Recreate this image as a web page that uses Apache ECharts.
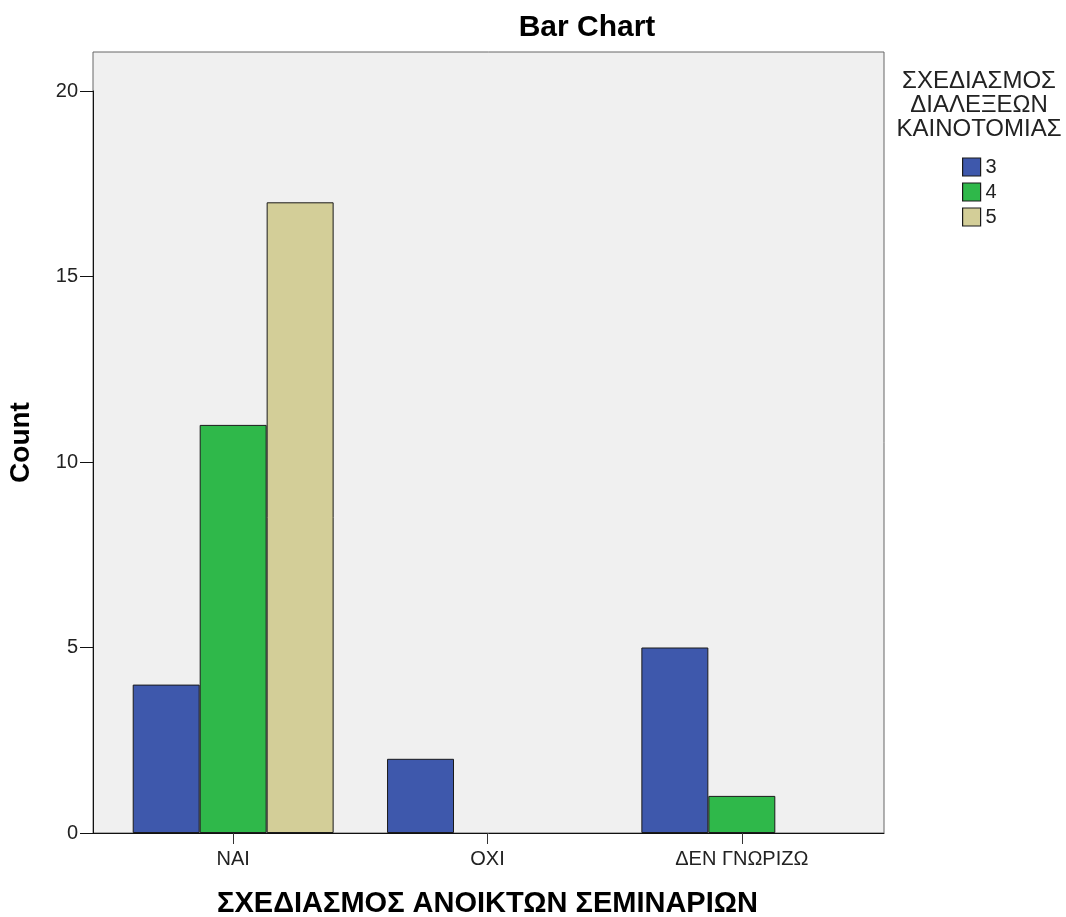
<!DOCTYPE html>
<html>
<head>
<meta charset="utf-8">
<script src="https://cdn.jsdelivr.net/npm/echarts@6/dist/echarts.min.js"></script>
<style>html,body{margin:0;padding:0;background:#fff}#c{width:1066px;height:917px}</style>
</head>
<body>
<div id="c"></div>
<script>
var categories = ['ΝΑΙ', 'ΟΧΙ', 'ΔΕΝ ΓΝΩΡΙΖΩ'];
var seriesNames = ['3', '4', '5'];
var values3 = [4, 2, 5];
var values4 = [11, 0, 1];
var values5 = [17, 0, 0];
var yTicks = [0, 5, 10, 15, 20];

var colors = ['#3e58ac', '#2fb84a', '#d3ce98'];
var allValues = [values3, values4, values5];
var FONT = '"Liberation Sans", Arial, sans-serif';

var chart = echarts.init(document.getElementById('c'), null, {renderer: 'canvas'});
var series = seriesNames.map(function (n, i) {
  return {
    name: n,
    type: 'bar',
    xAxisIndex: 2,
    yAxisIndex: 2,
    data: allValues[i].map(function (v) { return v === 0 ? null : v; }),
    barGap: '0%',
    barCategoryGap: '21%',
    itemStyle: {color: colors[i], borderColor: '#1a1a1a', borderWidth: 1},
    emphasis: {disabled: true}
  };
});

chart.setOption({
  animation: false,
  title: [
    {text: 'Bar Chart', left: 582, top: 8, textAlign: 'center',
     textStyle: {fontFamily: FONT, fontSize: 30, fontWeight: 'bold', color: '#000'}},
    {text: 'ΣΧΕΔΙΑΣΜΟΣ\nΔΙΑΛΕΞΕΩΝ\nΚΑΙΝΟΤΟΜΙΑΣ', left: 974, top: 64, textAlign: 'center',
     textStyle: {fontFamily: FONT, fontSize: 24, fontWeight: 'normal', color: '#222', lineHeight: 24, align: 'center'}}
  ],
  legend: {
    data: seriesNames,
    orient: 'vertical',
    left: 957, top: 152,
    icon: 'rect',
    itemWidth: 18, itemHeight: 18, itemGap: 5,
    textStyle: {fontFamily: FONT, fontSize: 20, color: '#222'},
    itemStyle: {borderColor: '#1a1a1a', borderWidth: 1.2},
    selectedMode: false
  },
  grid: [
    {left: 93, top: 52, right: 182, bottom: 84, show: true, backgroundColor: '#f0f0f0', borderColor: '#666', borderWidth: 1, outerBoundsMode: 'none', containLabel: false},
    {left: 93, top: 91, right: 182, bottom: 84, outerBoundsMode: 'none', containLabel: false},
    {left: 106, top: 91, right: 197, bottom: 84, outerBoundsMode: 'none', containLabel: false}
  ],
  xAxis: [
    {type: 'category', gridIndex: 0, data: categories, show: false},
    {type: 'category', gridIndex: 1, data: categories,
     axisLine: {show: true, lineStyle: {color: '#111', width: 1}},
     axisTick: {show: false}, axisLabel: {show: false}},
    {type: 'category', gridIndex: 2, data: categories,
     axisLine: {show: false},
     axisTick: {show: true, alignWithLabel: true, length: 11, lineStyle: {color: '#333'}},
     axisLabel: {fontFamily: FONT, fontSize: 20, color: '#222', margin: 16},
     name: 'ΣΧΕΔΙΑΣΜΟΣ ΑΝΟΙΚΤΩΝ ΣΕΜΙΝΑΡΙΩΝ',
     nameLocation: 'middle', nameGap: 56,
     nameTextStyle: {fontFamily: FONT, fontSize: 29, fontWeight: 'bold', color: '#000'}}
  ],
  yAxis: [
    {type: 'value', gridIndex: 0, min: 0, max: 1,
     axisLine: {show: false}, axisTick: {show: false}, axisLabel: {show: false}, splitLine: {show: false},
     name: 'Count', nameLocation: 'middle', nameRotate: 90, nameGap: 58,
     nameTextStyle: {fontFamily: FONT, fontSize: 28, fontWeight: 'bold', color: '#000'}},
    {type: 'value', gridIndex: 1, min: yTicks[0], max: yTicks[yTicks.length - 1], interval: 5,
     axisLine: {show: true, lineStyle: {color: '#111', width: 1}},
     axisTick: {show: true, length: 13, lineStyle: {color: '#111'}},
     splitLine: {show: false},
     axisLabel: {fontFamily: FONT, fontSize: 20, color: '#222', margin: 15, padding: [5, 0, 0, 0]}},
    {type: 'value', gridIndex: 2, show: false, min: yTicks[0], max: yTicks[yTicks.length - 1]}
  ],
  series: series
});
</script>
</body>
</html>
